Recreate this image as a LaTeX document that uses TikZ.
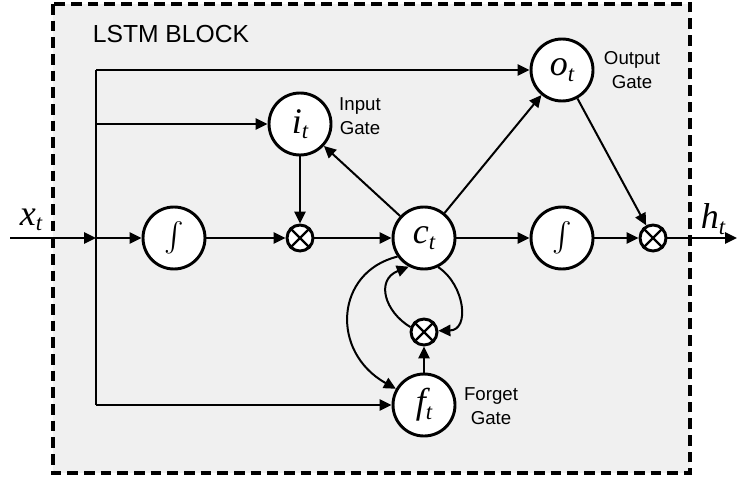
\documentclass[tikz,border=0pt]{standalone}
\usepackage{fontspec}
\usepackage{graphicx}
\setmainfont{Liberation Sans}
\newfontfamily\serifvar{Liberation Serif}
\usetikzlibrary{arrows.meta}
\definecolor{boxfill}{RGB}{240,240,240}
\newcommand{\vr}[2]{{\serifvar\itshape\fontsize{27}{27}\selectfont #1\raisebox{-4pt}{\fontsize{17}{17}\selectfont #2}}}
\tikzset{
  gate/.style={circle, draw, line width=2.2pt, fill=white, minimum size=46.5pt, inner sep=0pt},
  mult/.style={circle, draw, line width=2.2pt, fill=white, minimum size=19.5pt, inner sep=0pt},
  conn/.style={line width=1.5pt},
  arr/.style={conn, -{Triangle[length=9pt,width=8.5pt]}},
  gatelabel/.style={align=center, font=\fontsize{14}{18}\selectfont},
}
\begin{document}
\begin{tikzpicture}[x=0.75pt,y=-0.75pt]
\useasboundingbox (0,0) rectangle (737,478);
\draw[line width=2.3pt, dash pattern=on 8pt off 4.5pt, fill=boxfill] (53,4) rectangle (690,473);
\node[anchor=center, font=\fontsize{18.5}{20}\selectfont] (title) at (171,34) {LSTM BLOCK};

% gates
\node[gate] (it) at (300,124) {\vr{i}{t}};
\node[gate] (ot) at (562,70) {\vr{o}{t}};
\node[gate] (ct) at (424,238) {\vr{c}{t}};
\node[gate] (ft) at (424,405) {\vr{f}{t}};
\node[gate] (intL) at (174,238) {\scalebox{2.2}{$\int$}};
\node[gate] (intR) at (562,238) {\scalebox{2.2}{$\int$}};
\node[mult] (mulL) at (300,238) {};
\node[mult] (mulR) at (653,238) {};
\node[mult] (mulF) at (424,332) {};
\foreach \m in {mulL,mulR,mulF}{
  \draw[line width=1.8pt] (\m.45) -- (\m.225) (\m.135) -- (\m.315);
}

% labels
\node[gatelabel] (itlab) at (360,116) {Input\\Gate};
\node[gatelabel] (otlab) at (632,70) {Output\\Gate};
\node[gatelabel] (ftlab) at (491,406) {Forget\\Gate};
\node (xt) at (31,220) {\vr{x}{t}};
\node (ht) at (713,219) {\vr{h}{t}};

% bus
\coordinate (xin) at (10,238);
\coordinate (hout) at (737,238);
\coordinate (btop) at (96,70);
\coordinate (bit) at (96,124);
\coordinate (bx) at (96,238);
\coordinate (bft) at (96,405);
\draw[conn] (btop) -- (bft);
\draw[arr] (xin) -- (bx);
\draw[arr] (btop) -- (ot);
\draw[arr] (bit) -- (it);
\draw[arr] (bft) -- (ft);
\draw[arr] (bx) -- (intL);

% main row
\draw[arr] (intL) -- (mulL);
\draw[arr] (mulL) -- (ct);
\draw[arr] (ct) -- (intR);
\draw[arr] (intR) -- (mulR);
\draw[arr] (mulR) -- (hout);

% gate connections
\draw[arr] (it) -- (mulL);
\draw[arr] (ct) -- (it);
\draw[arr] (ct) -- (ot);
\draw[arr] (ot) -- (mulR);
\draw[arr] (ft) -- (mulF);

% curved
\draw[arr] (ct.215) .. controls (335,272) and (330,352) .. (ft.150);
\draw[arr] (ct.296) .. controls (465,285) and (470,330) .. (mulF.5);
\draw[arr] (mulF.160) .. controls (385,312) and (375,280) .. (ct.242);
\end{tikzpicture}
\end{document}
